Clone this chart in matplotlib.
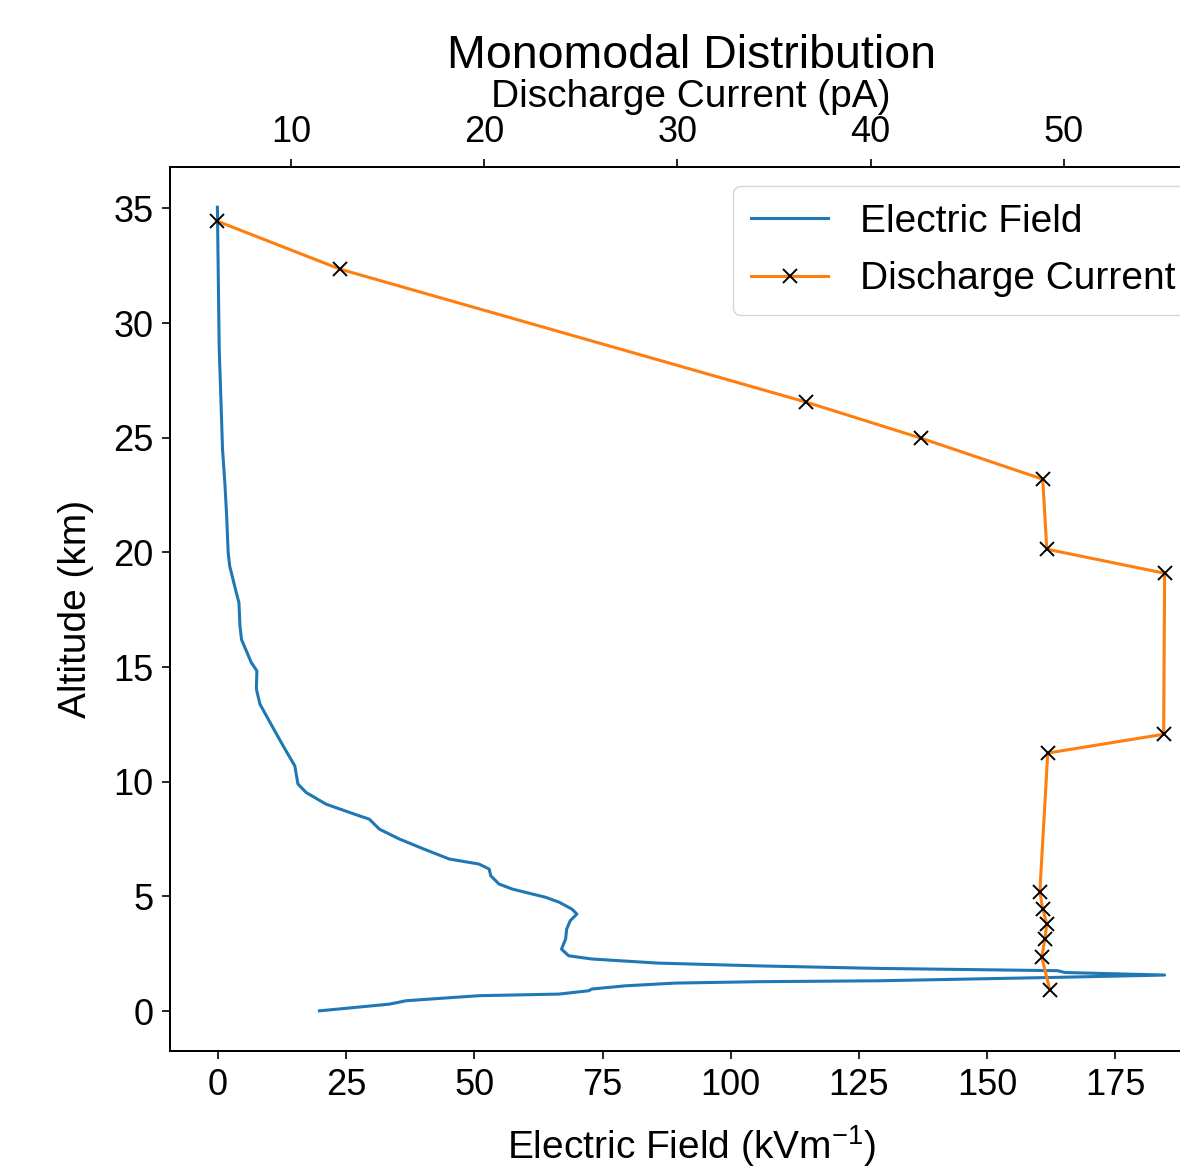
import matplotlib.pyplot as plt

plt.rcParams['font.family'] = ['Liberation Sans', 'DejaVu Sans']
plt.rcParams['mathtext.default'] = 'regular'

# electric field profile (kV/m) vs altitude (km), in sounding order
field = [19.8, 33.4, 36.7, 50.9, 66.5, 72.3, 72.9, 79.4, 89.2, 105.3, 128.7,
         163.7, 184.6, 165.2, 163.7, 128.7, 105.3, 85.9, 72.9, 68.4, 67.0,
         67.8, 68.0, 68.7, 70.0, 69.0, 66.5, 63.9, 57.4, 54.8, 53.2, 52.9,
         50.9, 45.1, 40.2, 35.4, 31.5, 29.5, 27.6, 21.1, 17.2, 15.6, 15.0,
         14.6, 12.7, 10.7, 8.2, 7.5, 7.6, 6.5, 4.6, 4.3, 4.1, 3.3, 2.3, 2.0,
         1.7, 1.36, 0.9, 0.58, 0.25, -0.1]
field_alt = [0.01, 0.3, 0.45, 0.67, 0.74, 0.885, 0.96, 1.10, 1.22, 1.28, 1.32,
             1.47, 1.57, 1.68, 1.76, 1.86, 1.97, 2.09, 2.27, 2.41, 2.70, 3.14,
             3.57, 3.94, 4.23, 4.45, 4.75, 4.96, 5.32, 5.54, 5.90, 6.19, 6.41,
             6.63, 7.06, 7.50, 7.93, 8.37, 8.51, 9.02, 9.53, 9.90, 10.69,
             10.84, 11.57, 12.37, 13.38, 14.04, 14.83, 15.2, 16.2, 16.8, 17.8,
             18.5, 19.4, 20.0, 21.6, 23.0, 24.5, 26.7, 28.9, 35.05]

# discharge current (pA) vs altitude (km)
current = [6.18, 12.53, 36.67, 42.61, 48.91, 49.12, 55.22, 55.17, 49.17,
           48.76, 48.91, 49.12, 49.02, 48.86, 49.28]
current_alt = [34.44, 32.35, 26.55, 24.98, 23.19, 20.14, 19.09, 12.07, 11.25,
               5.19, 4.45, 3.79, 3.14, 2.35, 0.92]

fig = plt.figure(figsize=(11.8, 11.73), dpi=100)
ax = fig.add_axes([0.1441, 0.104, 0.883, 0.7536])
ax2 = ax.twiny()

l1, = ax.plot(field, field_alt, color='C0', lw=2.2, label='Electric Field')
l2, = ax2.plot(current, current_alt, color='C1', lw=2.2, marker='x', ms=10,
               mec='k', mew=1.4, label='Discharge Current')

ax.set_xlabel('Electric Field (kVm$^{-1}$)', fontsize=28, labelpad=15)
ax.set_ylabel('Altitude (km)', fontsize=28, labelpad=14)
ax2.set_xlabel('Discharge Current (pA)', fontsize=28, labelpad=6)
ax2.set_title('Monomodal Distribution', fontsize=33.5, pad=8)

for a in (ax, ax2):
    a.tick_params(labelsize=26, length=6, width=1.2, pad=6)
    for s in a.spines.values():
        s.set_linewidth(1.3)

ax2.legend(handles=[l1, l2], loc='upper right', fontsize=28,
           labelspacing=0.55, borderpad=0.45)

fig.savefig('out.png', dpi=100)
